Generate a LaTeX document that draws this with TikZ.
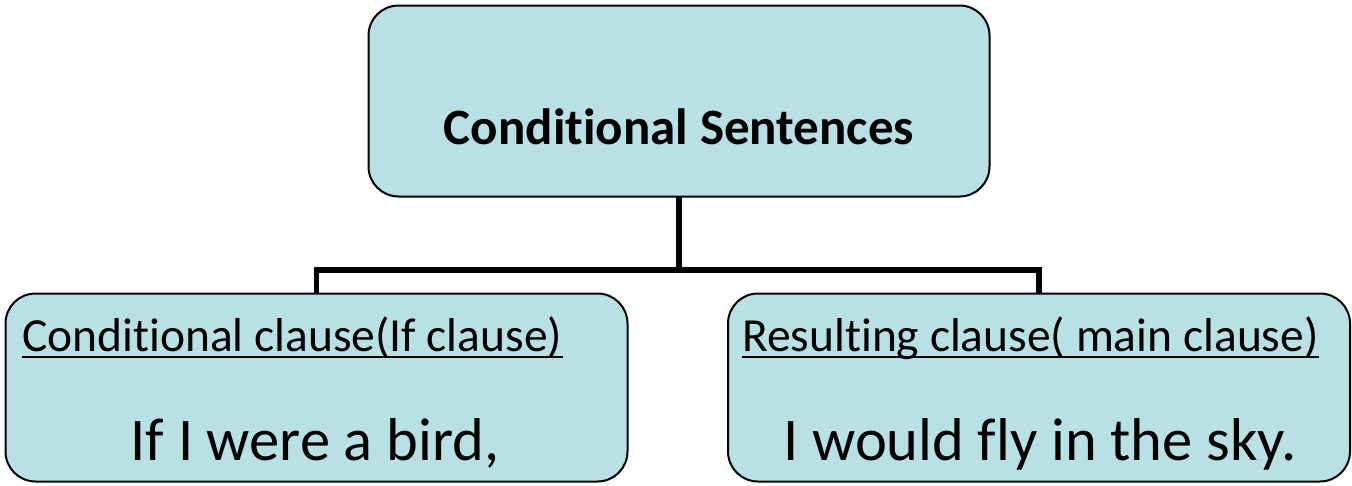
\documentclass[tikz,border=0pt]{standalone}
\usepackage{fontspec}
\setmainfont{Carlito}[Ligatures=NoCommon]
\usepackage{tikz}
\definecolor{boxblue}{HTML}{B9E0E4}
\tikzset{clausebox/.style={shape=rectangle, rounded corners=30pt, fill=boxblue, draw=black, line width=2pt, inner sep=0pt, outer sep=0pt},
headtext/.style={inner sep=0pt, anchor=base west, font=\fontsize{47.5}{56}\selectfont},
bigtext/.style={inner sep=0pt, anchor=base, font=\fontsize{60.5}{72}\selectfont}}

\begin{document}
\begin{tikzpicture}[x=1pt,y=-1pt]
\useasboundingbox (0,0) rectangle (1352,485);
\node[style=clausebox, minimum width=621pt, minimum height=191pt] (top) at (679,101) {};
\node[style=clausebox, minimum width=622pt, minimum height=188pt] (left) at (316.5,387.5) {};
\node[style=clausebox, minimum width=622pt, minimum height=188pt] (right) at (1039,387.5) {};
\coordinate (mid) at (679,270);
\draw [line width=5.5pt] (top.south) -- (mid);
\draw [line width=5.5pt] (left.north) |- (mid) -| (right.north);
\node[inner sep=0pt, anchor=base, font=\fontsize{51}{60}\selectfont\bfseries] (title) at (679,144) {Conditional Sentences};
\node[style=headtext] (ifhead) at (22,351) {Conditional clause(If clause)};
\node[style=headtext] (mainhead) at (742,351) {Resulting clause( main clause)};
\draw [line width=2.5pt] ([yshift=-6pt]ifhead.base west) -- ([yshift=-6pt]ifhead.base east);
\draw [line width=2.5pt] ([yshift=-6pt]mainhead.base west) -- ([yshift=-6pt]mainhead.base east);
\node[style=bigtext] (ifpart) at (315,460) {If I were a bird,};
\node[style=bigtext] (mainpart) at (1040,460) {I would fly in the sky.};
\end{tikzpicture}
\end{document}
